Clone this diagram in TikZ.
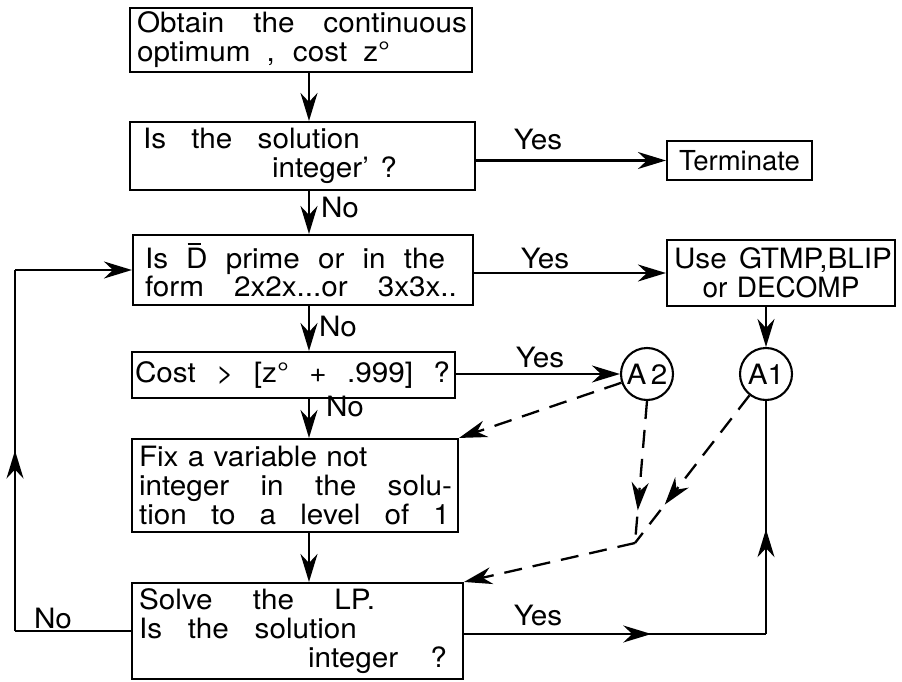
\documentclass[tikz,border=0pt]{standalone}
\usepackage{fontspec}
\setmainfont{TeX Gyre Heros}[FakeStretch=1.06]
\newfontfamily\plainfont{TeX Gyre Heros}
\usetikzlibrary{arrows.meta,decorations.markings,calc}
\newcommand{\fitline}[2]{\makebox[#1pt][s]{\spaceskip=0.3em plus 10em\relax #2}}
\newcommand{\Dbar}{\makebox[0pt][l]{\hspace{1.5pt}\rule[24pt]{13pt}{1.6pt}}D}
\begin{document}
\begin{tikzpicture}[x=1pt,y=-1pt,
  font=\fontsize{28}{29}\selectfont,
  box/.style={draw,line width=2.1pt,inner xsep=7pt,inner ysep=0pt,align=left},
  circ/.style={draw,circle,line width=2.1pt,minimum size=52pt,inner sep=0pt},
  tip/.style={-{Stealth[length=28pt,width=17pt,inset=9pt]}},
  conn/.style={line width=2.1pt},
  dconn/.style={line width=2.3pt,dash pattern=on 18pt off 11pt},
  midtip/.style={postaction={decorate},decoration={markings,
     mark=at position #1 with {\arrow{Stealth[length=28pt,width=17pt,inset=9pt]}}}},
  lbl/.style={inner sep=0pt}
]
\useasboundingbox (0,0) rectangle (902,682);
\coordinate (col) at (309,0);
\coordinate (lft) at (15,0);
% boxes
\node[box,minimum width=342,text width=328,minimum height=64] (B1) at (301,40)
  {\fitline{330}{Obtain the continuous}\\\fitline{253}{optimum , cost z°}};
\node[box,minimum width=345,text width=331,minimum height=68] (B2) at (302.5,156)
  {\hspace*{6pt}\fitline{217}{Is the solution}\\\hspace*{135pt}\fitline{125}{integer' ?}};
\node[box,minimum width=340,text width=326,minimum height=70,font=\fontsize{28}{25.5}\selectfont] (B3) at (303,270)
  {\hspace*{5pt}\fitline{300}{Is \Dbar{} prime or in the}\\\hspace*{5pt}\fitline{312}{form 2x2x...or 3x3x..}};
\node[box,minimum width=323,text width=309,minimum height=46] (B4) at (293.5,375)
  {\hspace*{-4pt}\fitline{315}{Cost > [z° + .999] ?}};
\node[box,minimum width=326,text width=312,minimum height=93] (B5) at (295,485.5)
  {Fix a variable not\\\fitline{313}{integer in the solu-}\\\fitline{311}{tion to a level of 1}};
\node[box,minimum width=331,text width=317,minimum height=96] (B6) at (297.5,631)
  {\fitline{236}{Solve the LP.}\\\fitline{218}{Is the solution}\\\hspace*{169pt}\fitline{139}{integer ?}};
\node[box,minimum width=145,text width=131,minimum height=39,align=center,font=\plainfont\fontsize{27.5}{29}\selectfont] (T) at (739.5,160.5)
  {Terminate};
\node[box,minimum width=228,text width=214,minimum height=66,align=center] (U) at (781,273)
  {\fitline{218}{Use GTMP,BLIP}\\{\plainfont or DECOMP}};
\node[circ] (A2) at (647,374) {A\,2};
\node[circ] (A1) at (766,374) {A1};
% solid connectors
\draw[conn,tip] (B1.south -| col) -- (B2.north -| col);
\draw[conn,tip] (B2.south -| col) -- (B3.north -| col);
\draw[conn,tip] (B3.south -| col) -- (B4.north -| col);
\draw[conn,tip] (B4.south -| col) -- (B5.north -| col);
\draw[conn,tip] (B5.south -| col) -- (B6.north -| col);
\draw[conn,tip] (B2.east |- T) -- (T.west);
\draw[conn,tip] (B3.east |- U) -- (U.west);
\draw[conn,tip] (B4.east |- A2) -- (A2.west);
\draw[conn,tip] (U.south -| A1) -- (A1.north);
\draw[conn] (B6.west) -- (B6.west -| lft);
\draw[conn,midtip=0.5] (B6.west -| lft) -- (B3.west -| lft);
\draw[conn,tip] (B3.west -| lft) -- (B3.west);
\coordinate (rc) at ($(B6.east -| A1)+(0,3)$);
\draw[conn,midtip=0.62] ($(B6.east)+(0,3)$) -- (rc);
\draw[conn,midtip=0.45] (rc) -- (A1.south);
% dashed connectors
\coordinate (J) at (635,543);
\draw[dconn,tip] (A2) -- (B5.north east);
\draw[dconn,midtip=0.77] (A2.south) -- (J);
\draw[dconn,midtip=0.74] (A1) -- (J);
\draw[dconn,tip] (J) -- (B6.north east);
% labels
\node[lbl] at (538,140) {Yes};
\node[lbl] at (545,259) {Yes};
\node[lbl] at (540,358) {Yes};
\node[lbl] at (538,615) {Yes};
\node[lbl] at (340,208) {No};
\node[lbl] at (338,327) {No};
\node[lbl] at (345,407) {No};
\node[lbl] at (53,618) {No};
\end{tikzpicture}
\end{document}
